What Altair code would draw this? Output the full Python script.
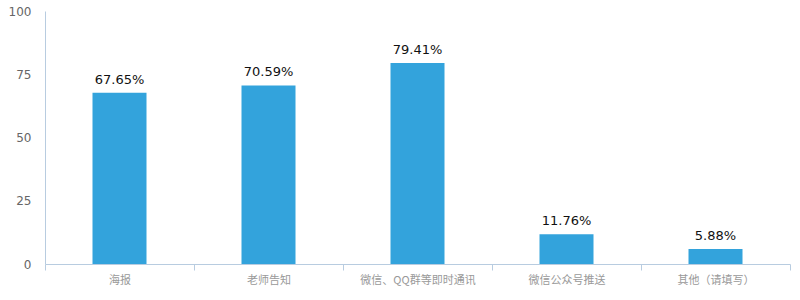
import altair as alt
import pandas as pd

categories = ["海报", "老师告知", "微信、QQ群等即时通讯", "微信公众号推送", "其他（请填写）"]
values = [67.65, 70.59, 79.41, 11.76, 5.88]
labels = ["67.65%", "70.59%", "79.41%", "11.76%", "5.88%"]

df = pd.DataFrame({"cat": categories, "val": values, "lab": labels})

axis_color = "#b8cce0"

x = alt.X("cat:N", sort=categories, title=None,
          scale=alt.Scale(paddingInner=0, paddingOuter=0),
          axis=alt.Axis(labelAngle=0, tickBand="extent", domainColor=axis_color,
                        tickColor=axis_color, tickSize=6, labelColor="#999999",
                        labelFontSize=11, labelFont="Noto Sans CJK SC", labelPadding=4,
                        grid=False))
y = alt.Y("val:Q", title=None, scale=alt.Scale(domain=[0, 100]),
          axis=alt.Axis(values=[0, 25, 50, 75, 100], ticks=False, grid=False,
                        domainColor=axis_color, labelColor="#666666",
                        labelFontSize=12, labelPadding=14, labelFont="DejaVu Sans"))

bars = alt.Chart(df).mark_bar(color="#33a3dc", width=54).encode(x=x, y=y)
text = alt.Chart(df).mark_text(dy=-13, fontSize=13, font="DejaVu Sans", color="#111111").encode(
    x=alt.X("cat:N", sort=categories), y="val:Q", text="lab:N")

chart = (bars + text).properties(
    width=745, height=253,
    autosize=alt.AutoSizeParams(type="none"),
    padding={"left": 45, "top": 11, "right": 10, "bottom": 36},
).configure_view(stroke=None)

chart.save("out.html", embed_options={"renderer": "svg", "actions": False})
